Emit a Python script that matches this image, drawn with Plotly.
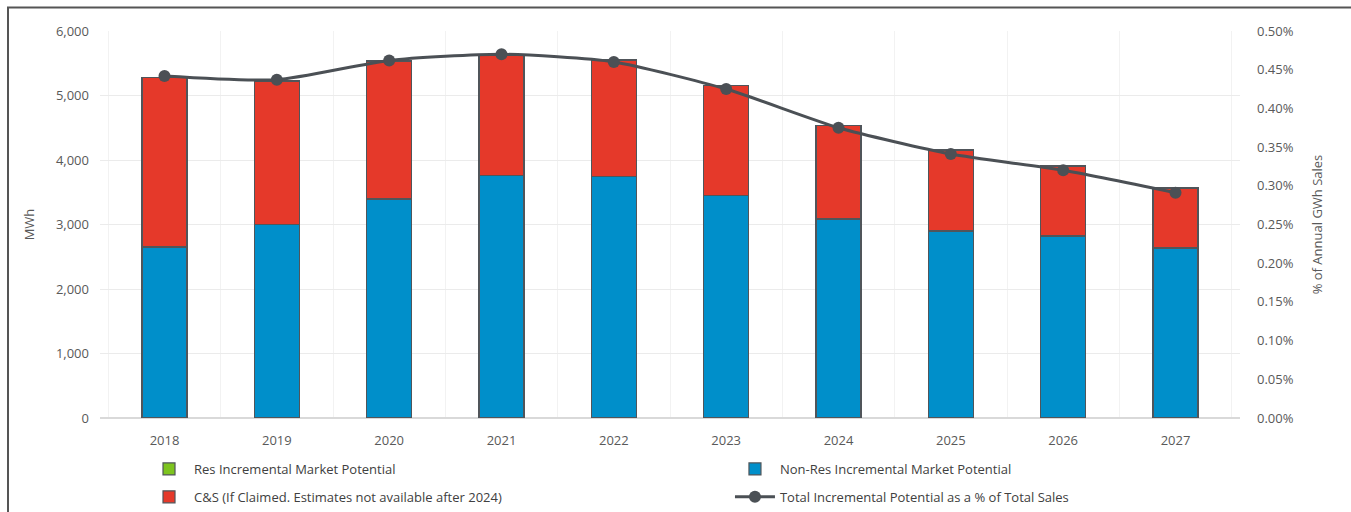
import plotly.graph_objects as go

years = ["2018", "2019", "2020", "2021", "2022", "2023", "2024", "2025", "2026", "2027"]
res_mwh = [0, 0, 0, 0, 0, 0, 0, 0, 0, 0]
nonres_mwh = [2650, 3005, 3395, 3765, 3740, 3445, 3085, 2900, 2822, 2636]
cs_mwh = [2630, 2220, 2140, 1850, 1810, 1705, 1445, 1255, 1085, 930]
pct_of_sales = [0.00442, 0.00437, 0.00462, 0.00470, 0.00460, 0.00425, 0.00375, 0.00341, 0.00320, 0.00291]

font_fam = "Open Sans, Segoe UI, sans-serif"
outline = dict(color="#50555a", width=1.2)

fig = go.Figure()
fig.add_trace(go.Bar(x=years, y=res_mwh, name="Res Incremental Market Potential",
                     marker=dict(color="#7dc41f", line=outline), legend="legend", legendgroup="a"))
fig.add_trace(go.Bar(x=years, y=nonres_mwh, name="Non-Res Incremental Market Potential",
                     marker=dict(color="#008fca", line=outline), legend="legend2", legendgroup="b"))
fig.add_trace(go.Bar(x=years, y=cs_mwh, name="C&S (If Claimed. Estimates not available after 2024)",
                     marker=dict(color="#e5392a", line=outline), legend="legend", legendgroup="c"))
fig.add_trace(go.Scatter(x=years, y=pct_of_sales, yaxis="y2", mode="lines+markers",
                         name="Total Incremental Potential as a % of Total Sales",
                         line=dict(color="#4b5055", width=3, shape="spline", smoothing=0.6),
                         marker=dict(color="#4b5055", size=12), legend="legend2", legendgroup="d"))

legend_style = dict(orientation="v", yanchor="top", xanchor="left", y=-0.093,
                    bgcolor="rgba(0,0,0,0)", traceorder="grouped", tracegroupgap=8, itemwidth=40,
                    font=dict(family=font_fam, size=13, color="#404040"))

fig.update_layout(
    width=1351, height=512,
    margin=dict(l=100, r=111, t=31, b=94, autoexpand=False),
    barmode="stack", bargap=0.6,
    plot_bgcolor="white", paper_bgcolor="white",
    font=dict(family=font_fam, size=13, color="#595959"),
    legend=dict(legend_style, x=0.0386),
    legend2=dict(legend_style, x=0.5526),
    xaxis=dict(type="category", showgrid=True, tickson="boundaries", gridcolor="#f2f2f2",
               ticks="", showline=False, ticklabelstandoff=13, automargin=False,
               tickfont=dict(size=13, color="#595959")),
    yaxis=dict(range=[0, 6000], dtick=1000, tickformat=",", gridcolor="#ebebeb",
               zeroline=True, zerolinecolor="#d9d9d9", ticks="", ticklabelstandoff=10, automargin=False,
               title=dict(text="MWh", standoff=18, font=dict(size=13, color="#595959"))),
    yaxis2=dict(range=[0, 0.005], dtick=0.0005, tickformat=".2%", overlaying="y", side="right",
                showgrid=False, zeroline=False, ticks="", ticklabelstandoff=16, automargin=False,
                title=dict(text="% of Annual GWh Sales", standoff=20, font=dict(size=13, color="#595959"))),
    shapes=[dict(type="rect", xref="paper", yref="paper", x0=-0.0807, x1=1.2, y0=-0.3, y1=1.061,
                 line=dict(color="#555555", width=2), layer="above")],
)

# page body has a default 8px margin; drop it so the figure sits at the window origin
fig.write_html("out.html", config={"displayModeBar": False},
               post_script="document.body.style.margin='0';document.body.style.overflow='hidden';")
